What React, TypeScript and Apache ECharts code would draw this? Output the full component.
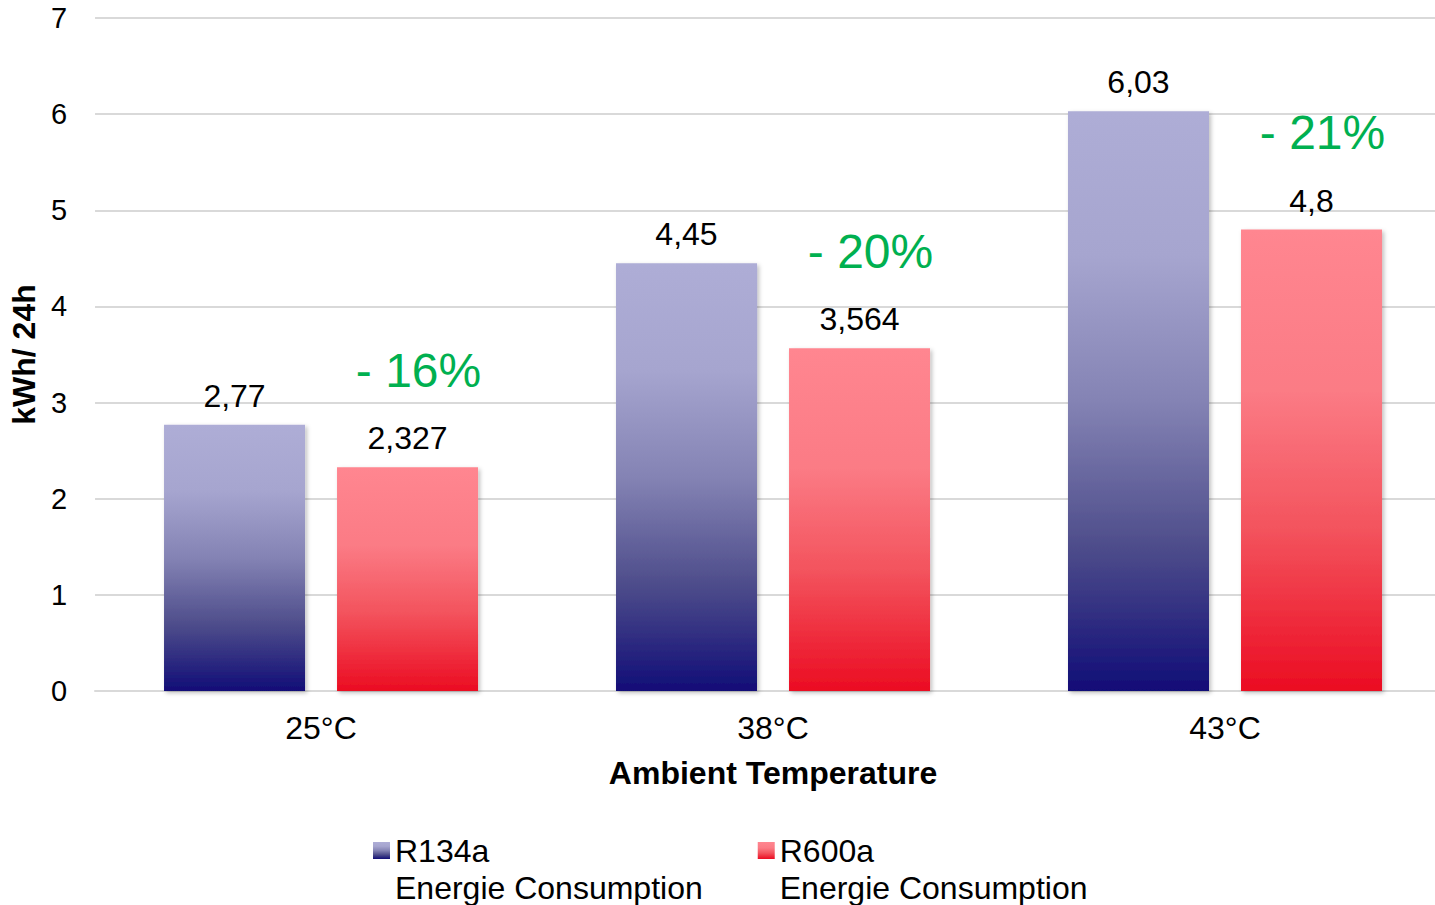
import React, { useEffect, useRef } from "react";
import * as echarts from "echarts";

const categories = ["25°C", "38°C", "43°C"];
const r134aValues = [2.77, 4.45, 6.03];
const r600aValues = [2.327, 3.564, 4.8];
const reductionLabels = ["- 16%", "- 20%", "- 21%"];
const seriesNames = ["R134a\nEnergie Consumption", "R600a\nEnergie Consumption"];
const yAxisName = "kWh/ 24h";
const xAxisName = "Ambient Temperature";

const FONT = '"Liberation Sans", Arial, Helvetica, sans-serif';

const fmt = (v: number) => String(v).replace(".", ",");

export default function App() {
  const ref = useRef<HTMLDivElement>(null);

  useEffect(() => {
    document.body.style.margin = "0";
    if (!ref.current) return;
    const chart = echarts.init(ref.current, null, { renderer: "svg" });

    const blueGrad = new echarts.graphic.LinearGradient(0, 0, 0, 1, [
      { offset: 0, color: "#AEADD6" },
      { offset: 0.25, color: "#A6A5CF" },
      { offset: 0.5, color: "#8483B4" },
      { offset: 0.75, color: "#4E4D8B" },
      { offset: 1, color: "#110D77" },
    ]);
    const redGrad = new echarts.graphic.LinearGradient(0, 0, 0, 1, [
      { offset: 0, color: "#FF8690" },
      { offset: 0.35, color: "#FB7B85" },
      { offset: 0.65, color: "#F3535D" },
      { offset: 1, color: "#EB0C22" },
    ]);

    const shadow = {
      shadowColor: "rgba(0,0,0,0.25)",
      shadowBlur: 4,
      shadowOffsetX: 2,
      shadowOffsetY: 2,
    };

    chart.setOption({
      animation: false,
      textStyle: { fontFamily: FONT, color: "#000" },
      grid: { left: 95, top: 18, right: 0, bottom: 214, containLabel: false },
      legend: {
        left: 373,
        top: 795,
        padding: 0,
        itemWidth: 17,
        itemHeight: 17,
        itemGap: 55,
        icon: "rect",
        data: seriesNames,
        formatter: (name: string) => "\n" + name,
        textStyle: {
          fontFamily: FONT,
          fontSize: 32,
          lineHeight: 37,
          color: "#000",
        },
      },
      xAxis: {
        type: "category",
        data: categories,
        name: xAxisName,
        nameLocation: "middle",
        nameGap: 66,
        nameTextStyle: { fontFamily: FONT, fontSize: 32, fontWeight: "bold", color: "#000" },
        axisLine: { lineStyle: { color: "#D9D9D9", width: 2 } },
        axisTick: { show: false },
        axisLabel: { fontFamily: FONT, fontSize: 32, color: "#000", margin: 21 },
      },
      yAxis: {
        type: "value",
        min: 0,
        max: 7,
        interval: 1,
        name: yAxisName,
        nameLocation: "middle",
        nameGap: 55,
        nameTextStyle: { fontFamily: FONT, fontSize: 32, fontWeight: "bold", color: "#000" },
        axisLine: { show: false },
        axisTick: { show: false },
        axisLabel: { fontFamily: FONT, fontSize: 29, color: "#000", margin: 28 },
        splitLine: { lineStyle: { color: "#D9D9D9", width: 2 } },
      },
      series: [
        {
          name: seriesNames[0],
          type: "bar",
          data: r134aValues,
          barWidth: 141,
          barGap: "22.7%",
          itemStyle: { color: blueGrad, ...shadow },
          label: {
            show: true,
            position: "top",
            distance: 13,
            fontFamily: FONT,
            fontSize: 32,
            color: "#000",
            formatter: (p: any) => fmt(p.value),
          },
        },
        {
          name: seriesNames[1],
          type: "bar",
          data: r600aValues,
          barWidth: 141,
          barGap: "22.7%",
          itemStyle: { color: redGrad, ...shadow },
          label: {
            show: true,
            position: "top",
            distance: 13,
            fontFamily: FONT,
            formatter: (p: any) =>
              `{pct|${reductionLabels[p.dataIndex]}}\n{val|${fmt(p.value)}}`,
            rich: {
              pct: {
                fontFamily: FONT,
                fontSize: 48,
                color: "#00B050",
                lineHeight: 104,
                padding: [0, 0, 0, 22],
              },
              val: {
                fontFamily: FONT,
                fontSize: 32,
                color: "#000",
                lineHeight: 32,
              },
            },
          },
        },
      ],
    });

    return () => chart.dispose();
  }, []);

  return (
    <div style={{ width: 1435, height: 905, overflow: "hidden", position: "relative" }}>
      <div ref={ref} style={{ width: 1451, height: 905 }} />
    </div>
  );
}
